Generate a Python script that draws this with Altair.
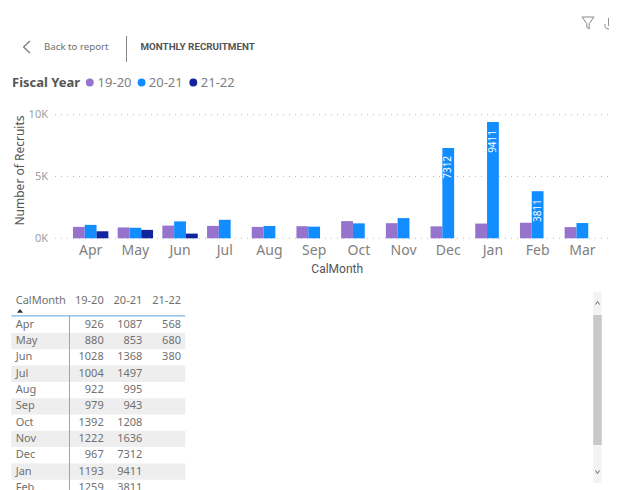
import altair as alt
import pandas as pd

months = ["Apr","May","Jun","Jul","Aug","Sep","Oct","Nov","Dec","Jan","Feb","Mar"]
fy1920 = [926,880,1028,1004,922,979,1392,1222,967,1193,1259,905]
fy2021 = [1087,853,1368,1497,995,943,1208,1636,7312,9411,3811,1235]
fy2122 = [568,680,380,None,None,None,None,None,None,None,None,None]
years = ["19-20","20-21","21-22"]
colors = ["#9673CD","#118DFF","#12239E"]
striped = ["May","Jul","Sep","Nov","Jan"]
labelled = ["Dec","Jan","Feb"]
table_months = months[:11]

W, H = 601, 482
OX, OY = 8, 8
def px(v): return v - OX
def py(v): return v - OY

SANS = "Noto Sans"
DIN = "Roboto"
Y0, Y10K = py(238.3), py(114.7)
XL, XR = px(68.3), px(604.7)
BAR = 11.8

xs = alt.Scale(domain=months, range=[XL, XR], paddingInner=0, paddingOuter=0)
ys = alt.Scale(domain=[0, 10000], range=[Y0, Y10K], nice=False, zero=True)

rows = []
for i, m in enumerate(months):
    for y, v in zip(years, (fy1920[i], fy2021[i], fy2122[i])):
        if v is not None:
            rows.append({"month": m, "year": y, "value": v})
df = pd.DataFrame(rows)

def text(s, x, y, size, color="#707070", font=SANS, weight="normal", align="left", **kw):
    return alt.Chart({"values": [{"t": s}]}).mark_text(
        font=font, fontSize=size, color=color, fontWeight=weight, align=align,
        baseline="middle", **kw
    ).encode(text="t:N", x=alt.value(px(x)), y=alt.value(py(y)))

def seg(x1, y1, x2, y2, color, w=1, **kw):
    return alt.Chart({"values": [{"a": 0}]}).mark_rule(color=color, strokeWidth=w, **kw).encode(
        x=alt.value(px(x1)), x2=alt.value(px(x2)), y=alt.value(py(y1)), y2=alt.value(py(y2)))

layers = []

# gridlines
grid = alt.Chart(pd.DataFrame({"v": [0, 5000, 10000]})).mark_rule(
    color="#BDBDBD", strokeDash=[1, 5], strokeWidth=1
).encode(y=alt.Y("v:Q", scale=ys, axis=None), x=alt.value(px(55)), x2=alt.value(px(617)))
layers.append(grid)

for k, (yr, col) in enumerate(zip(years, colors)):
    xaxis = None
    yaxis = None
    if k == 0:
        xaxis = alt.Axis(
            title="CalMonth", orient="bottom", offset=Y0 - H, domain=False, ticks=False,
            labelAngle=0, labelFont=SANS, labelFontSize=14, labelColor="#808080", labelPadding=5,
            grid=False, labelBaseline="top", titleFont=DIN, titleFontSize=12, titleColor="#555555",
            titleFontWeight="normal", titleX=px(336.7), titleY=29.7, titleBaseline="middle",
            titleAlign="center",
        )
        yaxis = alt.Axis(
            title="Number of Recruits", orient="left", offset=-px(47.5), domain=False, ticks=False,
            values=[0, 5000, 10000], labelExpr="datum.value / 1000 + 'K'", labelFont=SANS,
            labelFontSize=11, labelColor="#A0A0A0", labelPadding=0, grid=False,
            titleFont=SANS, titleFontSize=12, titleColor="#555555", titleFontWeight="normal",
            titleX=-28, titleY=py(170), titleAngle=270, titleAlign="center", titleBaseline="middle",
        )
    bars = alt.Chart(df[df.year == yr]).mark_bar(
        size=BAR, xOffset=(k - 1) * BAR, color=col
    ).encode(
        x=alt.X("month:N", scale=xs, sort=months, axis=xaxis),
        y=alt.Y("value:Q", scale=ys, axis=yaxis),
    )
    layers.append(bars)

# data labels
lab = alt.Chart(df[(df.year == "20-21") & (df.month.isin(labelled))]).mark_text(
    angle=270, align="right", baseline="middle", dx=-8, color="white", font=SANS, fontSize=10
).encode(
    x=alt.X("month:N", scale=xs, sort=months, axis=None),
    y=alt.Y("value:Q", scale=ys, axis=None),
    text="value:Q",
)
layers.append(lab)

# table
ROW = 16.3
T0 = py(316.7)
rowband = alt.Scale(domain=table_months, range=[T0, T0 + ROW * len(table_months)], paddingInner=0, paddingOuter=0)
stripes = alt.Chart(pd.DataFrame({"month": striped})).mark_bar(color="#EEEEEE", size=ROW).encode(
    y=alt.Y("month:N", scale=rowband, sort=table_months, axis=None),
    x=alt.value(px(11.3)), x2=alt.value(px(185.3)),
)
layers.append(stripes)

colx = alt.Scale(domain=years, range=[px(103.7), px(181)], type="point", padding=0)
cells = alt.Chart(df[df.month.isin(table_months)]).mark_text(
    align="right", baseline="middle", font=SANS, fontSize=11, color="#707070"
).encode(
    x=alt.X("year:N", scale=colx, axis=None),
    y=alt.Y("month:N", scale=rowband, sort=table_months, axis=None),
    text="value:Q",
)
layers.append(cells)
names = alt.Chart(pd.DataFrame({"month": table_months})).mark_text(
    align="left", baseline="middle", font=SANS, fontSize=11, color="#707070", dx=px(15.7)
).encode(
    x=alt.value(0),
    y=alt.Y("month:N", scale=rowband, sort=table_months, axis=None),
    text="month:N",
)
layers.append(names)

# table headers
layers.append(text("CalMonth", 15.7, 301, 11))
for y_, xr in zip(years, (103.7, 142.3, 181)):
    layers.append(text(y_, xr, 301, 11, align="right"))
layers.append(alt.Chart({"values": [{"a": 0}]}).mark_point(
    shape="M-1,0.6L0,-0.6L1,0.6Z", filled=True, color="#333333", opacity=1, size=40
).encode(x=alt.value(px(20)), y=alt.value(py(310.8))))
layers.append(seg(11.3, 315.8, 185.3, 315.8, "#7FB5E6", 1.2))
layers.append(seg(69.5, 315.8, 69.5, 490, "#70B0EE", 1))

# scrollbar
layers.append(alt.Chart({"values": [{"a": 0}]}).mark_rect(color="#F3F3F3").encode(
    x=alt.value(px(593.3)), x2=alt.value(px(601.7)), y=alt.value(py(291.7)), y2=alt.value(py(483))))
layers.append(alt.Chart({"values": [{"a": 0}]}).mark_rect(color="#C8C8C8").encode(
    x=alt.value(px(593.3)), x2=alt.value(px(601.7)), y=alt.value(py(315)), y2=alt.value(py(445))))
for (a, b, c, d) in [(595.5, 304.5, 597.5, 301.5), (597.5, 301.5, 599.5, 304.5),
                     (595.5, 470.5, 597.5, 473.5), (597.5, 473.5, 599.5, 470.5)]:
    layers.append(seg(a, b, c, d, "#666666", 1))

# header chrome
layers.append(seg(30, 41, 23.5, 47, "#777777", 1.2))
layers.append(seg(23.5, 47, 30, 53, "#777777", 1.2))
layers.append(text("Back to report", 44, 47, 9.7, color="#707070"))
layers.append(seg(126.5, 36, 126.5, 62, "#888888", 1))
layers.append(text("MONTHLY RECRUITMENT", 140.5, 46.5, 9.8, color="#555555", font=DIN, weight="bold"))

# legend
layers.append(text("Fiscal Year", 12, 83, 13, color="#555555", weight="bold"))
legend_df = pd.DataFrame({"year": years, "c": colors})
legx = alt.Scale(domain=years, range=[px(89.8), px(193.3)], type="point", padding=0)
layers.append(alt.Chart(legend_df).mark_circle(size=62, opacity=1).encode(
    x=alt.X("year:N", scale=legx, axis=None), y=alt.value(py(82.5)),
    color=alt.Color("c:N", scale=None)))
for y_, xl in zip(years, (97.6, 148.8, 200.8)):
    layers.append(text(y_, xl, 83, 13, color="#808080"))

# top-right icons
layers.append(alt.Chart({"values": [{"a": 0}]}).mark_point(
    shape="M-1,-1L1,-1L0.2,0.1L0.2,1L-0.2,0.7L-0.2,0.1Z", filled=False, color="#888888",
    strokeWidth=1, size=144, opacity=1
).encode(x=alt.value(px(588)), y=alt.value(py(23))))
layers.append(alt.Chart({"values": [{"a": 0}]}).mark_point(
    shape="M-0.4,-1L0.4,-1L0.4,0.3L-0.4,0.3ZM-1,0L-1,0.4C-1,1 1,1 1,0.4L1,0", filled=False, color="#888888",
    strokeWidth=1, size=144, opacity=1
).encode(x=alt.value(px(611)), y=alt.value(py(24))))

chart = alt.layer(*layers).resolve_scale(x="independent", y="independent", color="independent").properties(
    width=W, height=H, padding=0, autosize=alt.AutoSizeParams(type="none"),
    background="white"
).configure_view(stroke=None)

chart.save("out.html", embed_options={"renderer": "svg", "actions": False})
